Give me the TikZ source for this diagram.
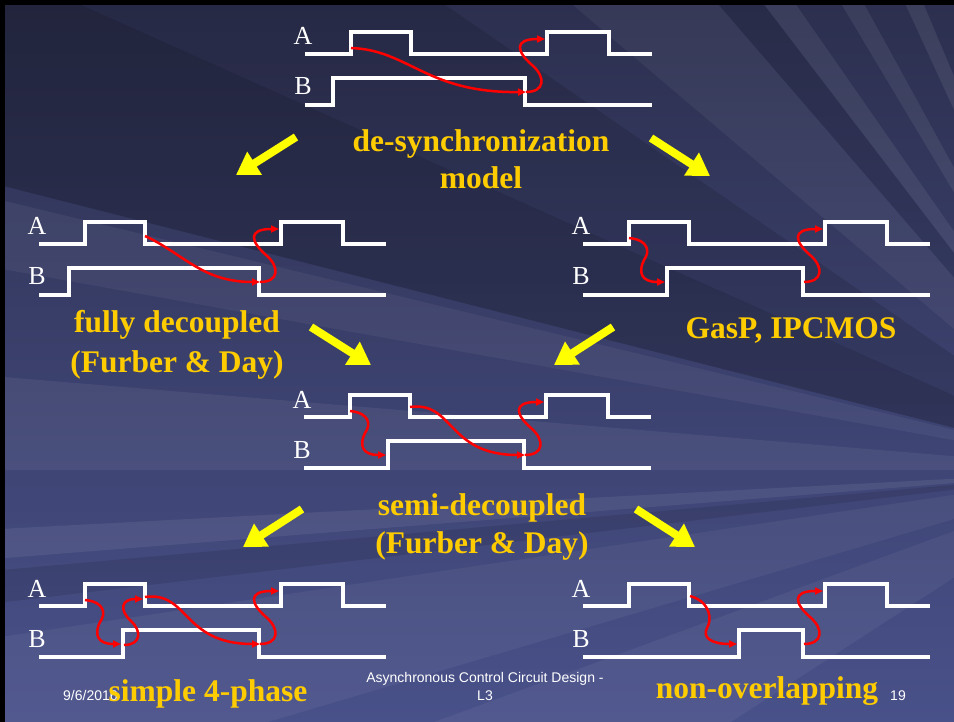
\documentclass[tikz,border=0pt]{standalone}
\usepackage{fontspec}
\setmainfont{Liberation Serif}
\newfontfamily\footfont{Liberation Sans}
\usetikzlibrary{arrows.meta}

\definecolor{slidetop}{HTML}{2C2F4E}
\definecolor{slidebottom}{HTML}{49518A}
\definecolor{titleyellow}{HTML}{FFCC00}
\definecolor{arrowyellow}{HTML}{FFFF00}
\definecolor{causalred}{HTML}{FF0000}

\tikzset{
  wave/.style={white, line width=3.5pt, line join=miter},
  siglabel/.style={anchor=base, text=white, inner sep=0pt, font=\fontsize{26}{26}\selectfont},
  cause/.style={causalred, line width=2.5pt, -{Triangle[length=8pt,width=7pt]}},
  flow/.style={arrowyellow, line width=8pt, -{Triangle[length=22pt,width=26pt]}},
  caption/.style={anchor=base, text=titleyellow, inner sep=0pt, font=\fontsize{31.5}{39}\selectfont\bfseries},
  footer/.style={anchor=base, text=white, inner sep=0pt, font=\footfont\fontsize{14}{16}\selectfont},
  ray/.style={white, opacity=#1},
  shadow/.style={black, opacity=#1}
}

% One A/B timing pair: #1 name, #2 x origin, #3 y origin, #4 offset of the B rising edge.
% Named points: -ar1 A first rise, -af1 A first fall, -ar2 A second rise,
% -br B rise, -bf B fall (each taken on the curve-attachment height).
\newcommand\timingpair[4]{%
  \begin{scope}[shift={(#2,#3)}]
    \node[siglabel] (#1-la) at (-2,13) {A};
    \node[siglabel] (#1-lb) at (-2,63) {B};
    \draw[wave] (0,22) -- (46,22) -- (46,0) -- (106,0) -- (106,22) -- (242,22)
                -- (242,0) -- (304,0) -- (304,22) -- (347,22);
    \draw[wave] (0,73) -- (#4,73) -- (#4,46) -- (220,46) -- (220,73) -- (347,73);
    \coordinate (#1-ar1) at (46,16);
    \coordinate (#1-af1) at (106,14);
    \coordinate (#1-ar2) at (240,7);
    \coordinate (#1-br)  at ({#4-2},60);
    \coordinate (#1-bf)  at (221,60);
  \end{scope}}

\begin{document}
\begin{tikzpicture}[x=1pt,y=-1pt]
  \useasboundingbox (0,0) rectangle (954,722);

  % ---- slide background: gradient with rays fanning out from beyond the right edge ----
  \shade[top color=slidetop, bottom color=slidebottom] (0,0) rectangle (954,722);
  \coordinate (F) at (1120,470);
  \fill[shadow=0.22] (F) -- (-20,-40) -- (-20,180) -- cycle;
  \fill[shadow=0.12] (F) -- (-20,-40) -- (380,-40) -- cycle;
  \fill[ray=0.05] (F) -- (-20,195) -- (-20,265) -- cycle;
  \fill[ray=0.06] (F) -- (-20,375) -- (-20,470) -- cycle;
  \fill[ray=0.07] (F) -- (-20,530) -- (-20,560) -- cycle;
  \fill[shadow=0.10] (F) -- (-20,572) -- (-20,605) -- cycle;
  \fill[ray=0.05] (F) -- (-20,640) -- (-20,742) -- (200,742) -- cycle;
  \fill[ray=0.05] (F) -- (520,-40) -- (680,-40) -- cycle;
  \fill[ray=0.07] (F) -- (730,-40) -- (765,-40) -- cycle;
  \fill[ray=0.07] (F) -- (815,-40) -- (840,-40) -- cycle;
  \fill[ray=0.08] (F) -- (885,-40) -- (905,-40) -- cycle;
  \fill[ray=0.08] (F) -- (945,-40) -- (970,-40) -- cycle;
  \fill[shadow=0.08] (F) -- (680,-40) -- (730,-40) -- cycle;
  \fill[shadow=0.08] (F) -- (990,-40) -- (1030,-40) -- cycle;
  \fill[ray=0.05] (F) -- (380,742) -- (700,742) -- cycle;
  % black frame edges
  \fill[black] (0,0) rectangle (954,5);
  \fill[black] (0,0) rectangle (5,722);

  % ---- timing diagrams ----
  \timingpair{ds}{305}{32}{28}
  \timingpair{fd}{39}{222}{30}
  \timingpair{gp}{583}{222}{84}
  \timingpair{sd}{304}{395}{84}
  \timingpair{sp}{39}{584}{84}
  \timingpair{no}{583}{584}{156}

  % ---- causality arrows (red) ----
  % de-synchronization model
  \draw[cause] (ds-ar1) .. controls +(58,2) and +(-100,1) .. (ds-bf);
  \draw[cause] (ds-bf) .. controls +(19,0) and +(14,12) .. ([shift={(6,-27)}]ds-bf)
               .. controls +(-15,-13) and +(-32,0) .. (ds-ar2);
  % fully decoupled
  \draw[cause] (fd-af1) .. controls +(39,18) and +(-58,0) .. (fd-bf);
  \draw[cause] (fd-bf) .. controls +(19,0) and +(14,12) .. ([shift={(6,-27)}]fd-bf)
               .. controls +(-15,-13) and +(-32,0) .. (fd-ar2);
  % GasP, IPCMOS
  \draw[cause] (gp-ar1) .. controls +(20,2) and +(6,-8) .. ([shift={(15,22)}]gp-ar1)
               .. controls +(-6,12) and +(-24,0) .. (gp-br);
  \draw[cause] (gp-bf) .. controls +(19,0) and +(14,12) .. ([shift={(6,-27)}]gp-bf)
               .. controls +(-15,-13) and +(-32,0) .. (gp-ar2);
  % semi-decoupled
  \draw[cause] (sd-ar1) .. controls +(20,2) and +(6,-8) .. ([shift={(15,22)}]sd-ar1)
               .. controls +(-6,12) and +(-24,0) .. (sd-br);
  \draw[cause] ([yshift=2]sd-af1) .. controls +(44,-6) and +(-78,0) .. (sd-bf);
  \draw[cause] (sd-bf) .. controls +(19,0) and +(14,12) .. ([shift={(6,-27)}]sd-bf)
               .. controls +(-15,-13) and +(-32,0) .. (sd-ar2);
  % simple 4-phase
  \draw[cause] (sp-ar1) .. controls +(20,2) and +(6,-8) .. ([shift={(15,22)}]sp-ar1)
               .. controls +(-6,12) and +(-24,0) .. (sp-br);
  \draw[cause] ([shift={(3,1)}]sp-br) .. controls +(17,0) and +(11,10) .. ([shift={(10,-23)}]sp-br)
               .. controls +(-12,-11) and +(-22,0) .. ([shift={(-2,1)}]sp-af1);
  \draw[cause] ([yshift=1]sp-af1) .. controls +(44,-6) and +(-78,0) .. (sp-bf);
  \draw[cause] (sp-bf) .. controls +(19,0) and +(14,12) .. ([shift={(6,-27)}]sp-bf)
               .. controls +(-15,-13) and +(-32,0) .. (sp-ar2);
  % non-overlapping
  \draw[cause] ([shift={(1,-2)}]no-af1) .. controls +(21,6) and +(5,-8) .. ([shift={(18,30)}]no-af1)
               .. controls +(-5,10) and +(-25,0) .. (no-br);
  \draw[cause] (no-bf) .. controls +(19,0) and +(14,12) .. ([shift={(6,-27)}]no-bf)
               .. controls +(-15,-13) and +(-32,0) .. (no-ar2);

  % ---- captions ----
  \node[caption] (c1a) at (481,152) {de-synchronization};
  \node[caption] (c1b) at (481,189) {model};
  \node[caption] (c2a) at (177,333) {fully decoupled};
  \node[caption] (c2b) at (177,372) {(Furber \& Day)};
  \node[caption] (c3)  at (791,338) {GasP, IPCMOS};
  \node[caption] (c4a) at (482,515) {semi-decoupled};
  \node[caption] (c4b) at (482,553) {(Furber \& Day)};

  % ---- refinement arrows (yellow) ----
  \coordinate (t1) at (296,137); \coordinate (h1) at (236,175);
  \coordinate (t2) at (651,138); \coordinate (h2) at (710,176);
  \coordinate (t3) at (311,327); \coordinate (h3) at (371,365);
  \coordinate (t4) at (613,327); \coordinate (h4) at (554,365);
  \coordinate (t5) at (302,509); \coordinate (h5) at (243,547);
  \coordinate (t6) at (636,509); \coordinate (h6) at (695,547);
  \foreach \i in {1,...,6} \draw[flow] (t\i) -- (h\i);

  % ---- footer (the date sits underneath the bottom-left caption) ----
  \node[footer, anchor=base west] (date) at (63,700) {9/6/2016};
  \node[footer] (title1) at (485,682) {Asynchronous Control Circuit Design -};
  \node[footer] (title2) at (485,700) {L3};
  \node[footer] (page) at (898,700) {19};
  \node[caption] (c5) at (208,701) {simple 4-phase};
  \node[caption] (c6) at (767,698) {non-overlapping};
\end{tikzpicture}
\end{document}
